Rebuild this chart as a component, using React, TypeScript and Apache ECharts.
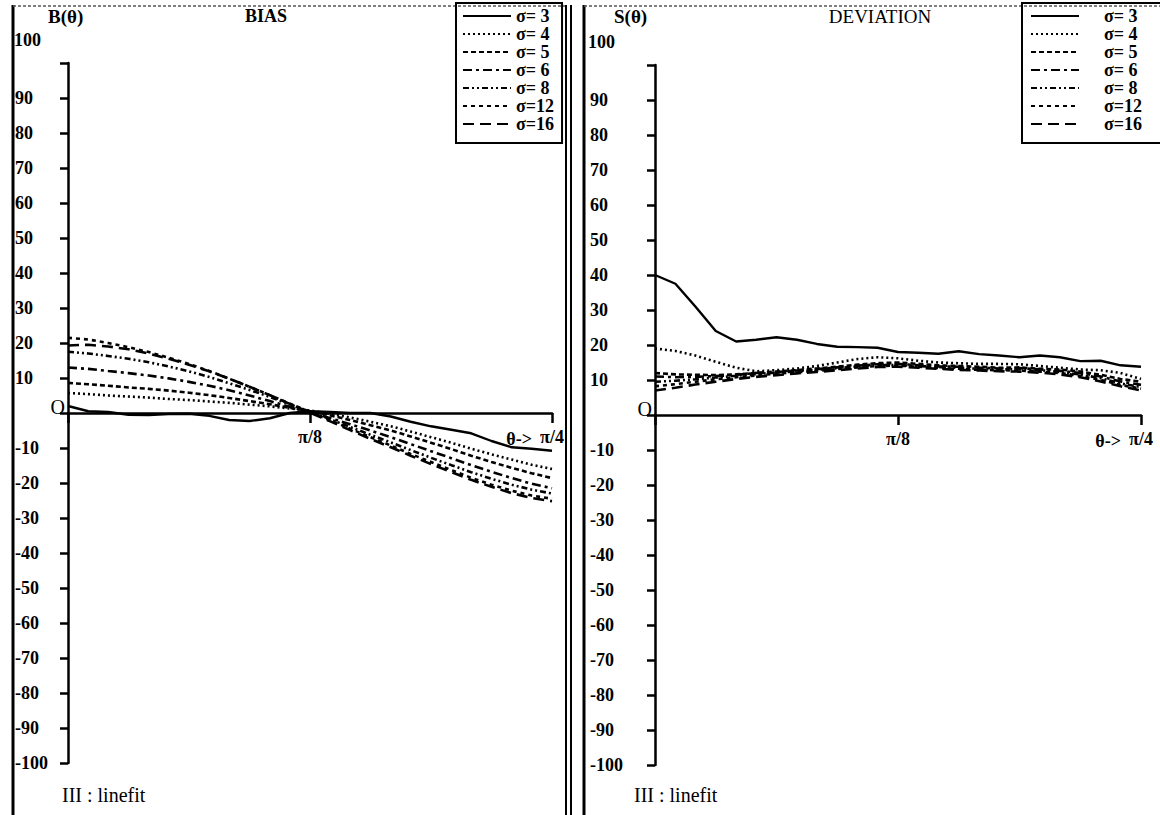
import React, { useEffect, useRef } from "react";
import * as echarts from "echarts";

// theta sampled as a fraction of pi/4
const THETA = [0, 0.042, 0.083, 0.125, 0.167, 0.208, 0.25, 0.292, 0.333, 0.375, 0.417, 0.458, 0.5,
  0.542, 0.583, 0.625, 0.667, 0.708, 0.75, 0.792, 0.833, 0.875, 0.917, 0.958, 1];

const SIGMAS = ["σ= 3", "σ= 4", "σ= 5", "σ= 6", "σ= 8", "σ=12", "σ=16"];

// BIAS B(theta)
const BIAS_S3 = [2.0, 0.5, 0.3, -0.5, -0.6, -0.3, -0.2, -0.8, -2.0, -2.3, -1.5, 0.0, 0.5, 0.3, 0.0, 0.0, -1.0, -2.5, -3.8, -4.8, -5.8, -8.0, -9.8, -10.2, -10.8];
const BIAS_S4 = [5.7, 5.4, 5.0, 4.7, 4.4, 4.0, 3.7, 3.3, 2.9, 2.4, 1.9, 1.3, 0.7, -0.2, -1.3, -2.5, -3.8, -5.3, -6.9, -8.5, -10.2, -11.8, -13.3, -14.8, -16.0];
const BIAS_S5 = [8.6, 8.2, 7.8, 7.3, 6.9, 6.4, 5.8, 5.1, 4.3, 3.4, 2.5, 1.5, 0.5, -0.7, -2.0, -3.5, -5.0, -6.7, -8.5, -10.3, -12.2, -14.0, -15.7, -17.2, -18.6];
const BIAS_S6 = [13.0, 12.6, 12.0, 11.4, 10.7, 9.9, 8.9, 7.8, 6.5, 5.0, 3.4, 1.8, 0.2, -1.5, -3.2, -5.0, -6.9, -8.9, -10.9, -12.9, -14.9, -16.8, -18.6, -20.2, -21.5];
const BIAS_S8 = [17.5, 17.0, 16.3, 15.5, 14.5, 13.3, 11.9, 10.3, 8.5, 6.6, 4.6, 2.5, 0.4, -1.8, -4.0, -6.2, -8.4, -10.6, -12.8, -14.9, -16.9, -18.8, -20.5, -21.9, -23.0];
const BIAS_S12 = [21.5, 21.0, 20.0, 18.8, 17.4, 15.8, 14.0, 12.0, 9.8, 7.5, 5.1, 2.7, 0.3, -2.1, -4.5, -6.9, -9.3, -11.7, -14.0, -16.3, -18.5, -20.5, -22.2, -23.6, -24.5];
const BIAS_S16 = [19.3, 19.5, 19.0, 18.2, 17.0, 15.5, 13.8, 11.9, 9.8, 7.5, 5.1, 2.6, 0.1, -2.4, -4.9, -7.4, -9.8, -12.2, -14.6, -16.9, -19.1, -21.1, -22.9, -24.3, -25.2];

// DEVIATION S(theta)
const DEV_S3 = [40, 37.5, 31, 24, 21, 21.5, 22.2, 21.5, 20.3, 19.5, 19.4, 19.2, 18.0, 17.8, 17.5, 18.2, 17.4, 17.0, 16.5, 17.0, 16.5, 15.4, 15.5, 14.2, 13.8];
const DEV_S4 = [19.0, 18.3, 17.0, 15.2, 13.5, 12.5, 12.8, 13.3, 14.0, 15.0, 16.0, 16.5, 16.2, 15.5, 15.0, 14.8, 14.6, 14.6, 14.5, 14.0, 13.5, 13.0, 12.8, 12.0, 10.3];
const DEV_S5 = [12.0, 11.6, 11.5, 11.4, 11.6, 12.0, 12.4, 12.8, 13.3, 13.8, 14.4, 14.8, 15.0, 14.6, 14.2, 14.0, 13.8, 13.5, 13.6, 13.2, 13.0, 12.4, 11.5, 10.3, 9.5];
const DEV_S6 = [11.0, 10.8, 10.9, 11.1, 11.5, 12.0, 12.3, 12.7, 13.1, 13.6, 14.1, 14.5, 14.6, 14.2, 13.9, 13.8, 13.5, 13.3, 13.4, 13.0, 12.6, 12.0, 11.0, 9.6, 8.6];
const DEV_S8 = [9.5, 9.8, 10.2, 10.7, 11.2, 11.7, 12.1, 12.5, 12.9, 13.4, 13.9, 14.3, 14.3, 14.0, 13.7, 13.5, 13.2, 13.0, 13.1, 12.8, 12.3, 11.6, 10.5, 9.0, 8.0];
const DEV_S12 = [8.2, 8.8, 9.5, 10.2, 10.8, 11.3, 11.8, 12.2, 12.6, 13.1, 13.6, 14.0, 14.1, 13.8, 13.4, 13.2, 12.9, 12.8, 12.7, 12.4, 12.0, 11.2, 10.0, 8.6, 7.5];
const DEV_S16 = [7.0, 7.8, 8.7, 9.5, 10.3, 10.9, 11.4, 11.9, 12.3, 12.8, 13.3, 13.7, 13.8, 13.5, 13.2, 12.9, 12.7, 12.5, 12.4, 12.1, 11.6, 10.8, 9.6, 8.2, 7.0];

const BIAS = [BIAS_S3, BIAS_S4, BIAS_S5, BIAS_S6, BIAS_S8, BIAS_S12, BIAS_S16];
const DEV = [DEV_S3, DEV_S4, DEV_S5, DEV_S6, DEV_S8, DEV_S12, DEV_S16];

const X_TICKS = [0.5, 1];
const X_TICK_LABELS = ["π/8", "π/4"];

const DASHES: any[] = ["solid", [2, 3], [5, 3], [9, 4, 3, 4], [6, 3, 2, 3, 2, 3], [4, 4], [11, 6]];

const FONT = "Liberation Serif";
const INK = "#000";

export default function App() {
  const ref = useRef<HTMLDivElement>(null);
  useEffect(() => {
    if (!ref.current) return;
    const chart = echarts.init(ref.current, undefined, { renderer: "svg" });

    const mkX = (gi: number) => ({
      gridIndex: gi,
      type: "value",
      min: 0,
      max: 1,
      interval: 0.5,
      axisLine: { onZero: true, lineStyle: { color: INK, width: 2.5 } },
      axisTick: { show: true, length: 10, lineStyle: { color: INK, width: 2.5 } },
      axisLabel: { show: false },
      splitLine: { show: false },
    });
    const mkY = (gi: number, margin: number) => ({
      gridIndex: gi,
      type: "value",
      min: -100,
      max: 100,
      interval: 10,
      axisLine: { show: true, lineStyle: { color: INK, width: 2.5 } },
      axisTick: { show: true, length: 8, lineStyle: { color: INK, width: 2.5 } },
      axisLabel: {
        formatter: (v: number) => (v === 0 || v === 100 ? "" : String(v)),
        margin,
        align: "left",
        padding: [0, 0, 10, 0],
        color: INK,
        fontFamily: FONT,
        fontWeight: "bold",
        fontSize: 18,
      },
      splitLine: { show: false },
    });

    const mkSeries = (sets: number[][], gi: number) =>
      sets.map((vals, k) => ({
        name: SIGMAS[k],
        type: "line",
        xAxisIndex: gi,
        yAxisIndex: gi,
        symbol: "none",
        z: 3,
        data: THETA.map((t, i) => [t, vals[i]]),
        lineStyle: { color: INK, width: k === 0 ? 2.4 : 2.6, type: DASHES[k] },
        itemStyle: { color: INK },
      }));

    const legendBase = {
      orient: "vertical",
      top: 3,
      itemWidth: 48,
      itemHeight: 12,
      itemGap: 0,
      data: SIGMAS,
      borderColor: INK,
      borderWidth: 2,
      selectedMode: false,
      itemStyle: { opacity: 0, color: "rgba(0,0,0,0)", borderWidth: 0 },
      textStyle: { color: INK, fontFamily: FONT, fontWeight: "bold", fontSize: 18, lineHeight: 18 },
    };

    const txt = (x: number, y: number, text: string, opts: any = {}) => ({
      type: "text",
      x,
      y,
      z: 10,
      style: {
        text,
        fill: INK,
        font: `${opts.weight ?? "bold"} ${opts.size ?? 18}px "${FONT}"`,
        textAlign: opts.align ?? "left",
        textVerticalAlign: "middle",
      },
    });
    const ln = (x1: number, y1: number, x2: number, y2: number, w: number, extra: any = {}) => ({
      type: "line",
      shape: { x1, y1, x2, y2 },
      style: { stroke: extra.color ?? INK, lineWidth: w, lineDash: extra.dash },
    });

    const GRIDS = [
      { left: 68, top: 63, width: 484, height: 700 },
      { left: 655, top: 65, width: 486, height: 700 },
    ];

    chart.setOption({
      animation: false,
      backgroundColor: "#fff",
      grid: GRIDS,
      xAxis: [mkX(0), mkX(1)],
      yAxis: [mkY(0, 53), mkY(1, 65)],
      legend: [
        { ...legendBase, left: 456, padding: [4, 8, 10, 6] },
        {
          ...legendBase,
          left: 1022,
          padding: [4, 20, 10, 8],
          textStyle: { ...legendBase.textStyle, padding: [0, 0, 0, 20] },
        },
      ],
      series: [...mkSeries(BIAS, 0), ...mkSeries(DEV, 1)],
    });

    // x-axis tick labels placed at the tick positions on the zero line
    const xLabels: any[] = [];
    [0, 1].forEach((gi) => {
      X_TICKS.forEach((t, j) => {
        const p = chart.convertToPixel({ gridIndex: gi } as any, [t, 0]) as number[];
        xLabels.push(txt(p[0], p[1] + 24, X_TICK_LABELS[j], { align: "center" }));
      });
      const pEnd = chart.convertToPixel({ gridIndex: gi } as any, [1, 0]) as number[];
      xLabels.push(txt(pEnd[0] - 20, pEnd[1] + 26, "θ->", { align: "right" }));
      const p0 = chart.convertToPixel({ gridIndex: gi } as any, [0, 0]) as number[];
      xLabels.push(txt(p0[0] - 3, p0[1] - 6, "O", { align: "right", weight: "normal", size: 20 }));
    });

    chart.setOption({
      graphic: [
        // frames
        ln(13, 5, 13, 815, 3),
        ln(13, 6, 568, 6, 1.5, { color: "#555", dash: [3, 2] }),
        ln(566, 5, 566, 815, 2),
        ln(571, 5, 571, 815, 2),
        ln(584, 5, 584, 815, 3),
        ln(584, 6, 1160, 6, 1.5, { color: "#555", dash: [3, 2] }),
        // titles
        txt(48, 16, "B(θ)", { size: 19 }),
        txt(266, 16, "BIAS", { align: "center" }),
        txt(614, 16, "S(θ)", { size: 19 }),
        txt(880, 16, "DEVIATION", { align: "center", weight: "normal", size: 19 }),
        // top labels
        txt(14, 40, "100"),
        txt(588, 42, "100"),
        ...xLabels,
        // footers
        txt(62, 795, "III : linefit", { weight: "normal", size: 20 }),
        txt(634, 795, "III : linefit", { weight: "normal", size: 20 }),
      ],
    });
    return () => chart.dispose();
  }, []);
  return (
    <div
      ref={ref}
      style={{ position: "absolute", left: 0, top: 0, width: 1160, height: 815, background: "#fff" }}
    />
  );
}
